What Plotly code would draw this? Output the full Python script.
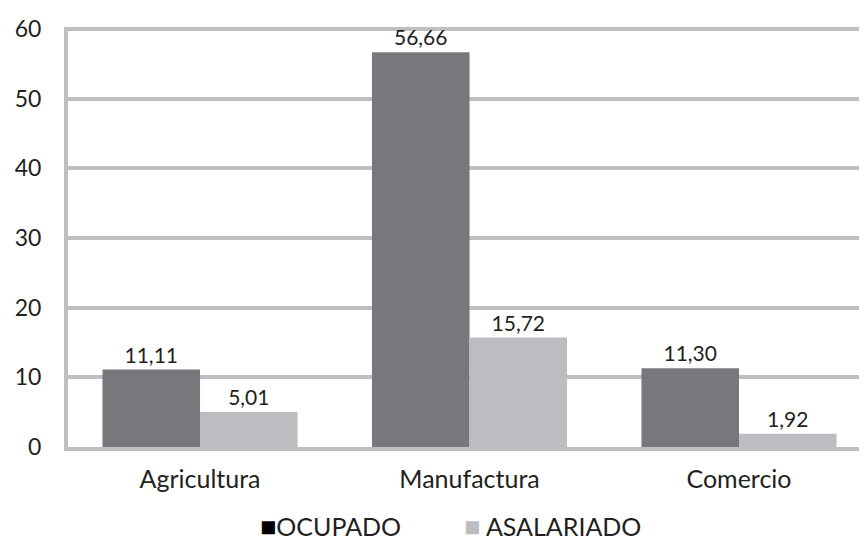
import plotly.graph_objects as go

categories = ["Agricultura", "Manufactura", "Comercio"]
series_names = ["OCUPADO", "ASALARIADO"]
ocupado = [11.11, 56.66, 11.30]
asalariado = [5.01, 15.72, 1.92]
y_ticks = [0, 10, 20, 30, 40, 50, 60]

DARK = "#77787B"
LIGHT = "#BCBDC0"
GRID = "#BEBFC1"
TXT = "#231F20"
FONT = "Lato"

fig = go.Figure()
for name, vals, col in [(series_names[0], ocupado, DARK), (series_names[1], asalariado, LIGHT)]:
    fig.add_trace(go.Bar(
        x=categories, y=vals, name=name, marker=dict(color=col, line=dict(width=0)),
        texttemplate="%{y:.2f}", textposition="outside",
        textfont=dict(family=FONT, size=21, color=TXT), cliponaxis=False,
    ))

fig.update_layout(
    width=859, height=534,
    margin=dict(l=60, r=0, t=19, b=95),
    paper_bgcolor="white", plot_bgcolor="white",
    barmode="group", bargap=0.276, bargroupgap=0,
    separators=",.",
    showlegend=False,
    font=dict(family=FONT, color=TXT),
)
fig.update_xaxes(
    range=[-0.49, 2.475], showgrid=False, zeroline=False,
    showline=True, linecolor=GRID, linewidth=4, layer="below traces",
    tickfont=dict(family=FONT, size=25, color=TXT), ticks="", ticklabelstandoff=7,
)
fig.update_yaxes(
    range=[0, 60.3], tickvals=y_ticks, showgrid=True, gridcolor=GRID, gridwidth=4,
    zeroline=False, showline=True, linecolor=GRID, linewidth=4, layer="below traces",
    tickfont=dict(family=FONT, size=23, color=TXT), ticks="", ticklabelstandoff=18,
)

fig.add_annotation(
    x=0.328, y=-0.186, xref="paper", yref="paper", xanchor="center", yanchor="middle",
    text="<span style='color:#000000;font-size:27px'>■</span>" + series_names[0], showarrow=False,
    font=dict(family=FONT, size=25, color=TXT),
)
fig.add_annotation(
    x=0.606, y=-0.186, xref="paper", yref="paper", xanchor="center", yanchor="middle",
    text=f"<span style='color:{LIGHT};font-size:27px'>■</span> " + series_names[1], showarrow=False,
    font=dict(family=FONT, size=25, color=TXT),
)

fig.write_html("out.html")
